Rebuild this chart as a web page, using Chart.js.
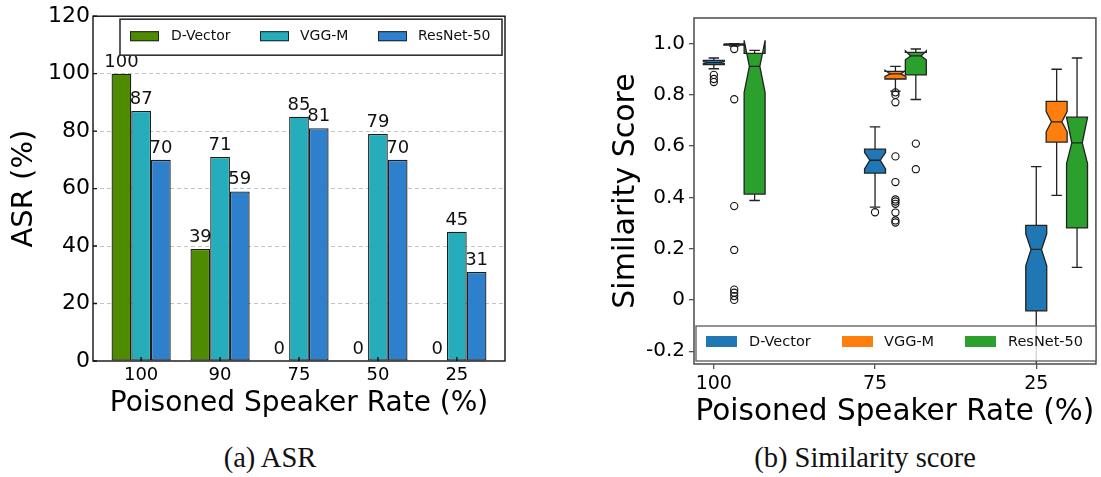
<!DOCTYPE html>
<html>
<head>
<meta charset="utf-8">
<script src="https://cdn.jsdelivr.net/npm/chart.js@4.4.0/dist/chart.umd.min.js"></script>
<style>
  html, body { margin: 0; padding: 0; background: #fff; }
  #page { position: relative; width: 1101px; height: 477px; overflow: hidden; }
  canvas { position: absolute; top: 0; }
  #asrChart { left: 0; }
  #simChart { left: 560px; }
  .caption {
    position: absolute; top: 442px; width: 300px; line-height: 32px;
    font-family: 'Liberation Serif', 'Times New Roman', serif; font-size: 28.5px;
    color: #111; text-align: center; white-space: nowrap;
  }
</style>
</head>
<body>
<div id="page">
  <canvas id="asrChart" width="550" height="440"></canvas>
  <canvas id="simChart" width="541" height="440"></canvas>
  <div class="caption" style="left:120px;">(a) ASR</div>
  <div class="caption" style="left:715px;">(b) Similarity score</div>
</div>

<script>
// ---- (a) ASR bars ----
const rateLabels = ['100', '90', '75', '50', '25'];
const dvectorAsr = [100, 39, 0, 0, 0];
const vggAsr = [87, 71, 85, 79, 45];
const resnetAsr = [70, 59, 81, 70, 31];

// ---- (b) similarity box plots ----
const simRates = ['100', '75', '25'];
// each box: [lowWhisker, q1, notchLow, median, notchHigh, q3, highWhisker]
const dvectorBoxes = [
    [0.902, 0.918, 0.922, 0.926, 0.930, 0.935, 0.944],
    [0.362, 0.495, 0.511, 0.545, 0.575, 0.588, 0.675],
    [-0.300, -0.043, 0.133, 0.197, 0.258, 0.291, 0.520]
];
const vggBoxes = [
    [0.990, 0.994, 0.995, 0.997, 0.999, 0.999, 1.000],
    [0.815, 0.862, 0.872, 0.882, 0.896, 0.892, 0.911],
    [0.408, 0.616, 0.656, 0.695, 0.735, 0.775, 0.900]
];
const resnetBoxes = [
    [0.388, 0.413, 0.809, 0.911, 1.013, 0.962, 0.974],
    [0.782, 0.878, 0.937, 0.952, 0.972, 0.966, 0.979],
    [0.127, 0.281, 0.532, 0.613, 0.712, 0.713, 0.944]
];
const dvectorOutliers = [[0.878, 0.862, 0.850], [0.342], []];
const vggOutliers = [
    [0.979, 0.783, 0.366, 0.195, 0.040, 0.028, 0.015, 0.000],
    [0.810, 0.800, 0.771, 0.560, 0.460, 0.392, 0.384, 0.375, 0.341, 0.310, 0.302],
    []
];
const resnetOutliers = [[], [0.610, 0.510], []];

const boxOffsets = [0, 0.1265, 0.253];
const boxWidth = 0.13;

const asrColors = ['#4e8b00', '#26adbb', '#2e80cc'];
const simColors = ['#1f77b4', '#ff7f0e', '#2ca02c'];
const modelNames = ['D-Vector', 'VGG-M', 'ResNet-50'];

Chart.defaults.font.family = "'DejaVu Sans', sans-serif";
Chart.defaults.color = '#000';

function drawLegend(ctx, box, entries, opts) {
    ctx.save();
    ctx.fillStyle = opts.fill;
    ctx.fillRect(box.x, box.y, box.w, box.h);
    ctx.strokeStyle = opts.frame;
    ctx.lineWidth = opts.frameWidth;
    ctx.strokeRect(box.x, box.y, box.w, box.h);
    ctx.font = opts.fontSize + "px 'DejaVu Sans'";
    ctx.textBaseline = 'middle';
    ctx.textAlign = 'left';
    entries.forEach(e => {
        ctx.globalAlpha = opts.swatchAlpha;
        ctx.fillStyle = e.color;
        ctx.fillRect(e.sx, opts.sy, opts.sw, opts.sh);
        ctx.lineWidth = 1;
        ctx.strokeStyle = opts.swatchEdge || e.color;
        ctx.strokeRect(e.sx + 0.5, opts.sy + 0.5, opts.sw - 1, opts.sh - 1);
        ctx.globalAlpha = 1;
        ctx.fillStyle = '#111';
        ctx.fillText(e.label, e.tx, opts.ty);
    });
    ctx.restore();
}

// value labels, frame, inward ticks and legend for the bar chart
const asrDecor = {
    id: 'asrDecor',
    afterDatasetsDraw(chart) {
        const {ctx, chartArea: a, scales: {x, y}} = chart;
        ctx.save();
        ctx.font = "18px 'DejaVu Sans'";
        ctx.fillStyle = '#111';
        ctx.textAlign = 'center';
        ctx.textBaseline = 'alphabetic';
        chart.data.datasets.forEach((ds, di) => {
            chart.getDatasetMeta(di).data.forEach((bar, i) => {
                ctx.fillText(String(ds.data[i].y), bar.x, bar.y - 7);
            });
        });
        ctx.strokeStyle = '#111';
        ctx.lineWidth = 1.4;
        ctx.beginPath();
        x.ticks.forEach(t => {
            const px = x.getPixelForValue(t.value);
            ctx.moveTo(px, a.bottom);
            ctx.lineTo(px, a.bottom - 4);
        });
        y.ticks.forEach(t => {
            const py = y.getPixelForValue(t.value);
            ctx.moveTo(a.left, py);
            ctx.lineTo(a.left + 4, py);
        });
        ctx.stroke();
        ctx.strokeRect(a.left, a.top, a.right - a.left, a.bottom - a.top);
        ctx.restore();
    },
    afterDraw(chart) {
        const a = chart.chartArea;
        drawLegend(chart.ctx, {x: a.left + 27, y: a.top + 3, w: 382, h: 36},
            modelNames.map((n, i) => ({
                label: n, color: asrColors[i],
                sx: a.left + [37, 167, 285][i], tx: a.left + [78, 207, 325][i]
            })),
            {fill: '#fff', frame: '#333', frameWidth: 1.6, fontSize: 14,
             sy: a.top + 15, sw: 29, sh: 10, ty: a.top + 20,
             swatchAlpha: 1, swatchEdge: '#222'});
    }
};

new Chart(document.getElementById('asrChart'), {
    type: 'bar',
    data: {
        datasets: [dvectorAsr, vggAsr, resnetAsr].map((vals, di) => ({
            label: modelNames[di],
            data: vals.map((v, i) => ({x: i, y: v})),
            backgroundColor: asrColors[di],
            borderColor: '#1e1e1e',
            borderWidth: 1.3,
            borderSkipped: false,
            barPercentage: 1.0,
            categoryPercentage: 0.75
        }))
    },
    options: {
        responsive: false,
        animation: false,
        layout: {padding: {top: 14, right: 45, left: 0, bottom: 0}},
        plugins: {legend: {display: false}, tooltip: {enabled: false}},
        scales: {
            x: {
                type: 'linear',
                offset: false,
                min: -0.61,
                max: 4.61,
                afterBuildTicks: s => { s.ticks = rateLabels.map((_, i) => ({value: i})); },
                afterFit: s => { s.height = 79; },
                ticks: {
                    autoSkip: false, maxRotation: 0, padding: 4,
                    font: {size: 18},
                    callback: v => rateLabels[v]
                },
                grid: {display: false, drawTicks: false},
                border: {display: false},
                title: {
                    display: true, text: 'Poisoned Speaker Rate (%)',
                    font: {size: 28}, padding: {top: 0, bottom: 19}
                }
            },
            y: {
                min: 0,
                max: 120,
                afterBuildTicks: s => { s.ticks = [0, 20, 40, 60, 80, 100, 120].map(v => ({value: v})); },
                afterFit: s => { s.width = 93; },
                ticks: {font: {size: 22}, padding: 3},
                grid: {
                    drawTicks: false,
                    color: c => (c.tick && c.tick.value > 0 && c.tick.value < 120) ? '#c4c4c4' : 'rgba(0,0,0,0)',
                    lineWidth: 1
                },
                border: {display: false, dash: [4, 3]},
                title: {
                    display: true, text: 'ASR (%)',
                    font: {size: 29}, padding: {top: 7, bottom: 0}
                }
            }
        }
    },
    plugins: [asrDecor]
});

// notched boxes, whiskers and medians
const simModels = [
    {boxes: dvectorBoxes, color: simColors[0]},
    {boxes: vggBoxes, color: simColors[1]},
    {boxes: resnetBoxes, color: simColors[2]}
];

const simDecor = {
    id: 'simDecor',
    beforeDatasetsDraw(chart) {
        const {ctx, chartArea: a, scales: {x, y}} = chart;
        ctx.save();
        ctx.beginPath();
        ctx.rect(a.left, a.top, a.right - a.left, a.bottom - a.top);
        ctx.clip();
        ctx.strokeStyle = '#222';
        ctx.lineWidth = 1.3;
        ctx.lineJoin = 'miter';
        simModels.forEach((m, mi) => {
            m.boxes.forEach((b, i) => {
                const pos = i + boxOffsets[mi];
                const cx = x.getPixelForValue(pos);
                const half = (x.getPixelForValue(pos + boxWidth / 2) - x.getPixelForValue(pos - boxWidth / 2)) / 2;
                const [lo, q1, nlo, med, nhi, q3, hi] = b.map(v => y.getPixelForValue(v));
                const l = cx - half, r = cx + half, nl = cx - half / 2, nr = cx + half / 2;
                ctx.beginPath();
                ctx.moveTo(l, q1);
                ctx.lineTo(r, q1);
                ctx.lineTo(r, nlo);
                ctx.lineTo(nr, med);
                ctx.lineTo(r, nhi);
                ctx.lineTo(r, q3);
                ctx.lineTo(l, q3);
                ctx.lineTo(l, nhi);
                ctx.lineTo(nl, med);
                ctx.lineTo(l, nlo);
                ctx.closePath();
                ctx.fillStyle = m.color;
                ctx.fill();
                ctx.stroke();
                ctx.beginPath();
                ctx.moveTo(cx, q1); ctx.lineTo(cx, lo);
                ctx.moveTo(cx, q3); ctx.lineTo(cx, hi);
                ctx.moveTo(cx - half / 2, lo); ctx.lineTo(cx + half / 2, lo);
                ctx.moveTo(cx - half / 2, hi); ctx.lineTo(cx + half / 2, hi);
                ctx.moveTo(nl, med); ctx.lineTo(nr, med);
                ctx.stroke();
            });
        });
        ctx.restore();
    },
    afterDatasetsDraw(chart) {
        const {ctx, chartArea: a} = chart;
        ctx.save();
        ctx.strokeStyle = '#555';
        ctx.lineWidth = 1.6;
        ctx.strokeRect(a.left, a.top, a.right - a.left, a.bottom - a.top);
        ctx.restore();
    },
    afterDraw(chart) {
        const a = chart.chartArea;
        drawLegend(chart.ctx, {x: a.left + 2, y: a.top + 308, w: 400, h: 35},
            modelNames.map((n, i) => ({
                label: n, color: simColors[i],
                sx: a.left + [12, 148, 271][i], tx: a.left + [55, 190, 314][i]
            })),
            {fill: 'rgba(255,255,255,0.8)', frame: '#666', frameWidth: 1.4, fontSize: 14.5,
             sy: a.top + 318, sw: 31, sh: 11, ty: a.top + 324,
             swatchAlpha: 1});
    }
};

new Chart(document.getElementById('simChart'), {
    type: 'scatter',
    data: {
        datasets: [dvectorOutliers, vggOutliers, resnetOutliers].map((groups, mi) => ({
            label: modelNames[mi],
            data: groups.flatMap((vals, i) => vals.map(v => ({x: i + boxOffsets[mi], y: v}))),
            pointRadius: 3.6,
            pointBackgroundColor: 'rgba(0,0,0,0)',
            pointBorderColor: '#111',
            pointBorderWidth: 1.1
        }))
    },
    options: {
        responsive: false,
        animation: false,
        layout: {padding: {top: 18, right: 3, left: 0, bottom: 0}},
        plugins: {legend: {display: false}, tooltip: {enabled: false}},
        scales: {
            x: {
                type: 'linear',
                min: -0.123,
                max: 2.37,
                afterBuildTicks: s => { s.ticks = simRates.map((_, i) => ({value: i})); },
                afterFit: s => { s.height = 76; },
                ticks: {
                    autoSkip: false, maxRotation: 0, padding: 4,
                    font: {size: 19},
                    callback: v => simRates[v]
                },
                grid: {drawOnChartArea: false, drawTicks: true, tickLength: 5, color: '#555', lineWidth: 1.3},
                border: {display: false},
                title: {
                    display: true, text: 'Poisoned Speaker Rate (%)',
                    font: {size: 29.5}, padding: {top: 0, bottom: 10}
                }
            },
            y: {
                min: -0.25,
                max: 1.1,
                afterBuildTicks: s => { s.ticks = [-2, 0, 2, 4, 6, 8, 10].map(v => ({value: v / 10})); },
                afterFit: s => { s.width = 134; },
                ticks: {
                    font: {size: 20}, padding: 4,
                    callback: v => (Math.abs(v) < 1e-9 ? '0' : v.toFixed(1))
                },
                grid: {drawOnChartArea: false, drawTicks: true, tickLength: 5, color: '#555', lineWidth: 1.3},
                border: {display: false},
                title: {
                    display: true, text: 'Similarity Score',
                    font: {size: 30}, padding: {top: 48, bottom: 0}
                }
            }
        }
    },
    plugins: [simDecor]
});
</script>
</body>
</html>
